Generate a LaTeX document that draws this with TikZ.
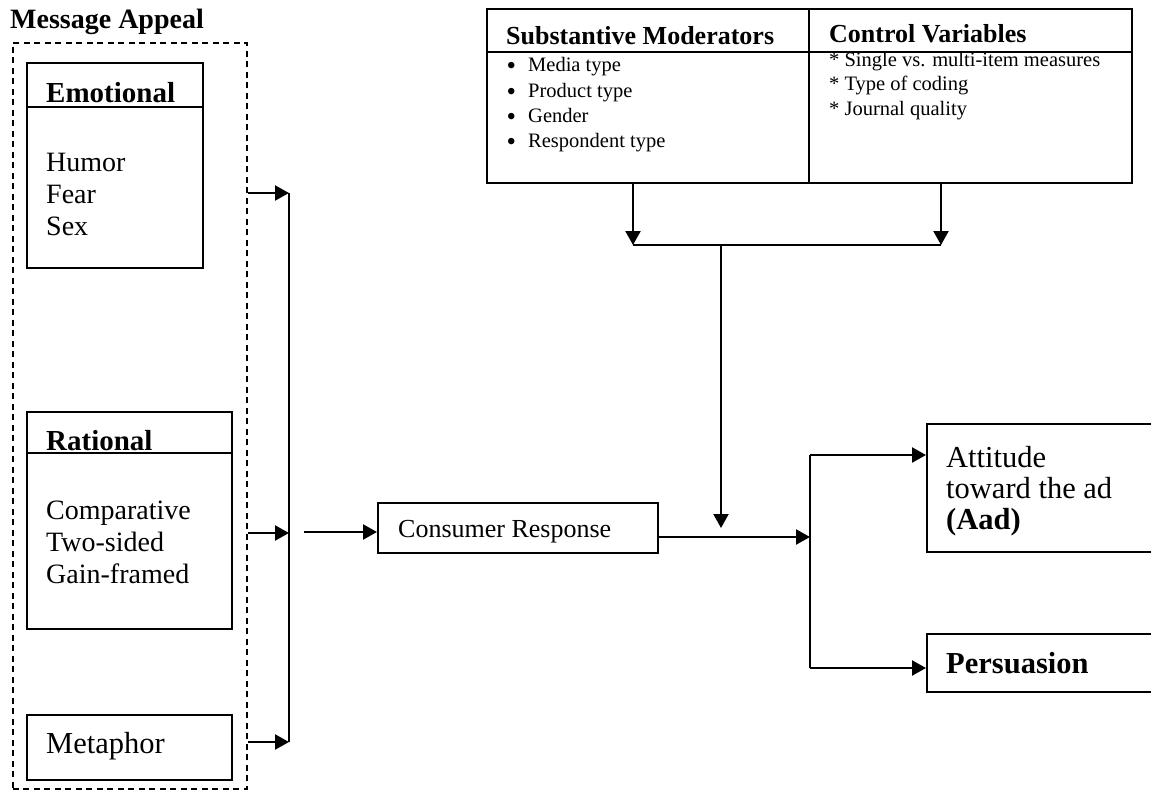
\documentclass[tikz,border=0pt]{standalone}
\usepackage{fontspec}
\setmainfont{Liberation Serif}
\usetikzlibrary{arrows.meta}

\begin{document}
\begin{tikzpicture}[x=1pt, y=-1pt,
    box/.style 2 args={draw, line width=2.3pt, anchor=north west, inner sep=0pt,
      minimum width=#1, minimum height=#2},
    rule/.style={line width=1.4pt},
    line/.style={line width=2.2pt},
    link/.style={line width=2.2pt, -{Triangle[length=14pt, width=15pt]}},
    txt/.style={inner sep=0pt, anchor=base west},
    head/.style={txt, font=\fontsize{29}{33}\selectfont\bfseries},
    body/.style={txt, font=\fontsize{28}{32}\selectfont},
    big/.style={txt, font=\fontsize{30.5}{34}\selectfont},
    small/.style={txt, font=\fontsize{20.5}{24}\selectfont}]
    \useasboundingbox (0,0) rectangle (1151,798);
    \clip (0,0) rectangle (1151,798);

    % message appeal
    \node[txt, font=\fontsize{28}{32}\selectfont\bfseries] (apT) at (10,28) {Message Appeal};
    \node[box={234pt}{746pt}, line width=1.8pt, dash pattern=on 6pt off 4.5pt] (appeal) at (12,42) {};

    \node[box={176pt}{205pt}] (emo) at (26,62) {};
    \draw[rule] (emo.west |- 0,107) -- (emo.east |- 0,107);
    \node[head] (emoT) at (46,102) {Emotional};
    \foreach \w [count=\i from 0] in {Humor, Fear, Sex}
        \node[body] (emo\i) at (46,171+32*\i) {\w};

    \node[box={205pt}{217pt}] (rat) at (26,411) {};
    \draw[rule] (rat.west |- 0,453) -- (rat.east |- 0,453);
    \node[head] (ratT) at (46,450) {Rational};
    \foreach \w [count=\i from 0] in {Comparative, Two-sided, Gain-framed}
        \node[body] (rat\i) at (46,519+32*\i) {\w};

    \node[box={205pt}{65pt}] (met) at (26,714) {};
    \node[big] (metT) at (46,753) {Metaphor};

    % collecting bar
    \coordinate (bar1) at (289,193);
    \coordinate (bar2) at (289,533);
    \coordinate (bar3) at (289,742);
    \draw[line] (bar1) -- (bar3);
    \draw[link] (appeal.east |- bar1) -- (bar1);
    \draw[link] (appeal.east |- bar2) -- (bar2);
    \draw[link] (appeal.east |- bar3) -- (bar3);

    % consumer response
    \node[box={280pt}{50pt}] (cr) at (377,502) {};
    \node[txt, font=\fontsize{26}{30}\selectfont] (crT) at (398,537) {Consumer Response};
    \coordinate (crin) at (304,532);
    \draw[link] (crin) -- (crin -| cr.west);

    % moderators
    \node[box={322pt}{174pt}] (subst) at (486,8) {};
    \node[box={323pt}{174pt}] (ctrl) at (808,8) {};
    \draw[rule] (subst.west |- 0,52) -- (ctrl.east |- 0,52);
    \node[txt, font=\fontsize{26}{30}\selectfont\bfseries] (substT) at (506,44) {Substantive Moderators};
    \node[txt, font=\fontsize{26}{30}\selectfont\bfseries] (ctrlT) at (829,42) {Control Variables};
    \foreach \w [count=\i from 0] in {Media type, Product type, Gender, Respondent type}
        \node[small] (sub\i) at (505,71.7+25.4*\i)
            {\makebox[23pt][l]{\hspace{1.5pt}\raisebox{-3pt}{\fontsize{27}{24}\selectfont\textbullet}}\w};
    \foreach \w [count=\i from 0] in {Single vs. multi-item measures, Type of coding, Journal quality}
        \node[small] (ctl\i) at (829,66.5+24.3*\i) {* \w};

    \coordinate (jl) at (633,245);
    \coordinate (jr) at (941,245);
    \coordinate (jm) at (721,245);
    \coordinate (modend) at (721,528);
    \draw[link] (subst.south -| jl) -- (jl);
    \draw[link] (ctrl.south -| jr) -- (jr);
    \draw[line] (jl) -- (jr);
    \draw[link] (jm) -- (modend);

    % outcomes
    \node[box={240pt}{128pt}] (att) at (926,423) {};
    \foreach \w [count=\i from 0] in {Attitude, toward the ad, \textbf{(Aad)}}
        \node[big] (att\i) at (946,467+31*\i) {\w};
    \node[box={240pt}{58pt}] (pers) at (926,633) {};
    \node[big, font=\fontsize{30.5}{34}\selectfont\bfseries] (persT) at (946,673) {Persuasion};

    \coordinate (split) at (810,537);
    \coordinate (ftop) at (810,455);
    \coordinate (fbot) at (810,668);
    \draw[link] (cr.east |- split) -- (split);
    \draw[line] (ftop) -- (fbot);
    \draw[link] (ftop) -- (ftop -| att.west);
    \draw[link] (fbot) -- (fbot -| pers.west);
\end{tikzpicture}
\end{document}
